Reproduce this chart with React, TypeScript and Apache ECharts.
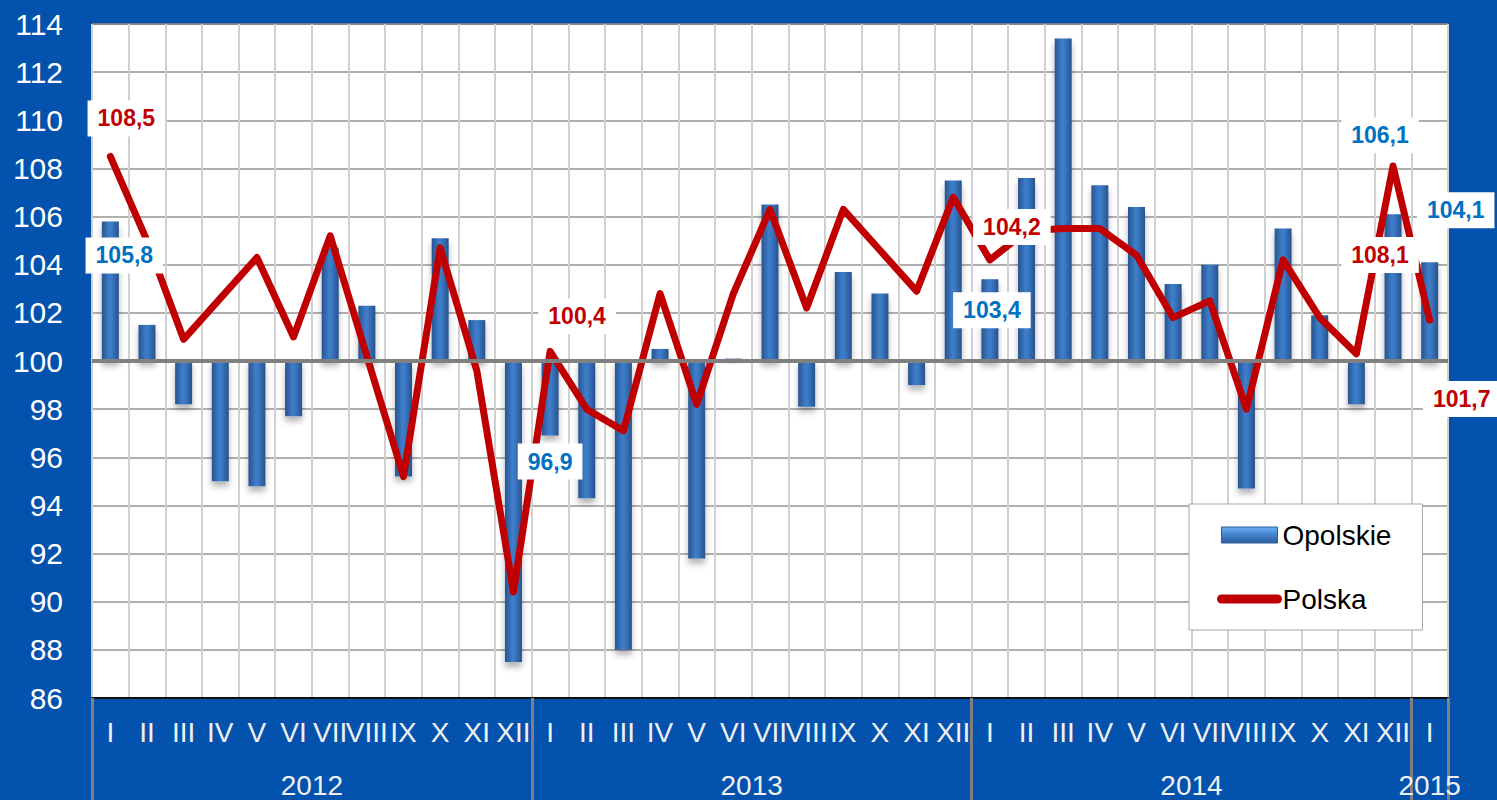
import React, { useEffect, useRef } from "react";
import * as echarts from "echarts";

const months = ["I", "II", "III", "IV", "V", "VI", "VII", "VIII", "IX", "X", "XI", "XII"];
const years = ["2012", "2013", "2014", "2015"];
const monthsPerYear = [12, 12, 12, 1];

const opolskie = [
  105.8, 101.5, 98.2, 95.0, 94.8, 97.7, 104.7, 102.3, 95.2, 105.1, 101.7, 87.5,
  96.9, 94.3, 88.0, 100.5, 91.8, 100.1, 106.5, 98.1, 103.7, 102.8, 99.0, 107.5,
  103.4, 107.6, 113.4, 107.3, 106.4, 103.2, 104.0, 94.7, 105.5, 101.9, 98.2, 106.1,
  104.1,
];
const polska = [
  108.5, 105.0, 100.9, 102.6, 104.3, 101.0, 105.2, 100.2, 95.2, 104.7, 99.6, 90.4,
  100.4, 98.0, 97.1, 102.8, 98.2, 102.8, 106.3, 102.2, 106.3, 104.6, 102.9, 106.8,
  104.2, 105.4, 105.5, 105.5, 104.4, 101.8, 102.5, 98.0, 104.2, 101.8, 100.3, 108.1,
  101.7,
];

const BASE = 100;
const yMin = 86;
const yMax = 114;
const yStep = 2;

// label placement (pixel offsets from the point), styles only
const polskaLabelOffsets: Record<number, [number, number]> = {
  0: [16, -38],
  12: [27, -35],
  24: [22, -33],
  35: [-13, 89],
  36: [32, 79],
};
const opolskieLabelOffsets: Record<number, [number, number]> = {
  0: [14, 34],
  12: [0, 26],
  24: [2, 31],
  35: [-13, -79],
  36: [26, -52],
};

const fmt = (v: number) => v.toFixed(1).replace(".", ",");

const FONT = "'Liberation Sans', Arial, sans-serif";

export default function App() {
  const ref = useRef<HTMLDivElement>(null);

  useEffect(() => {
    if (!ref.current) return;
    const chart = echarts.init(ref.current, undefined, { renderer: "svg" });

    const categories: string[] = [];
    monthsPerYear.forEach((n) => {
      for (let i = 0; i < n; i++) categories.push(months[i]);
    });

    // half-month points for the year axis (boundaryGap false)
    const halfPoints: string[] = [];
    const boundaries = new Set<number>();
    let pos = 0;
    boundaries.add(0);
    const yearLabelAt: Record<number, string> = {};
    years.forEach((y, k) => {
      yearLabelAt[pos + monthsPerYear[k]] = y;
      pos += monthsPerYear[k] * 2;
      boundaries.add(pos);
    });
    for (let i = 0; i <= pos; i++) halfPoints.push(yearLabelAt[i] || "");

    const labelBox = (color: string) => ({
      show: true,
      position: "inside",
      color,
      fontFamily: FONT,
      fontWeight: "bold",
      fontSize: 23,
      backgroundColor: "#ffffff",
      padding: [7, 10, 6, 10],
    });

    const lineData = polska.map((v, i) => {
      const off = polskaLabelOffsets[i];
      if (!off) return v - BASE;
      return {
        value: v - BASE,
        label: { ...labelBox("#c00000"), offset: off, formatter: fmt(v) },
      };
    });

    const barLabelData = opolskie.map((v, i) => {
      const off = opolskieLabelOffsets[i];
      if (!off) return "-";
      return {
        value: v - BASE,
        label: { ...labelBox("#0070c0"), offset: off, formatter: fmt(v) },
      };
    });

    const barGradient = new echarts.graphic.LinearGradient(0, 0, 1, 0, [
      { offset: 0, color: "#28548f" },
      { offset: 0.45, color: "#3f7ecb" },
      { offset: 0.6, color: "#3a77c2" },
      { offset: 1, color: "#27528c" },
    ]);
    const legendBarGradient = new echarts.graphic.LinearGradient(0, 0, 0, 1, [
      { offset: 0, color: "#6fb0f0" },
      { offset: 0.4, color: "#4a8ad6" },
      { offset: 1, color: "#2d5e9e" },
    ]);

    chart.setOption({
      animation: false,
      backgroundColor: "#0352ad",
      textStyle: { fontFamily: FONT },
      grid: {
        left: 92,
        top: 24,
        width: 1356,
        height: 674,
        show: true,
        backgroundColor: "#ffffff",
        borderColor: "#333333",
        borderWidth: 1.5,
      },
      legend: {
        orient: "vertical",
        left: 1189,
        top: 504,
        padding: [16, 31, 16, 28],
        itemGap: 34,
        itemWidth: 56,
        itemHeight: 16,
        backgroundColor: "#ffffff",
        borderColor: "#a6a6a6",
        borderWidth: 1,
        textStyle: { fontSize: 28, color: "#000000", lineHeight: 30, fontFamily: FONT },
        data: [
          { name: "Opolskie", icon: "rect", itemStyle: { color: legendBarGradient, borderColor: "#2d5e9e", borderWidth: 1 } },
          { name: "Polska", lineStyle: { width: 9, cap: "round", color: "#c00000" } },
        ],
      },
      xAxis: [
        {
          type: "category",
          data: categories,
          boundaryGap: true,
          position: "bottom",
          axisLine: { show: true, onZero: false, lineStyle: { color: "#111111", width: 2 } },
          axisTick: { show: false },
          axisLabel: {
            interval: 0,
            color: "#f0f0f0",
            fontSize: 28,
            fontFamily: FONT,
            margin: 20,
          },
          splitLine: { show: true, interval: 0, lineStyle: { color: "#d0d0d0", width: 2 } },
        },
        {
          type: "category",
          data: halfPoints,
          boundaryGap: false,
          position: "bottom",
          axisLine: { show: false, onZero: false },
          axisTick: {
            show: true,
            length: 104,
            interval: (idx: number) => boundaries.has(idx),
            lineStyle: { color: "#808080", width: 3 },
          },
          axisLabel: {
            interval: (_idx: number, val: string) => val !== "",
            color: "#f0f0f0",
            fontSize: 28,
            fontFamily: FONT,
            margin: 73,
          },
          splitLine: { show: false },
        },
      ],
      yAxis: {
        type: "value",
        min: yMin - BASE,
        max: yMax - BASE,
        interval: yStep,
        axisLine: { show: false },
        axisTick: { show: false },
        axisLabel: {
          color: "#ffffff",
          fontSize: 30,
          fontFamily: FONT,
          margin: 29,
          formatter: (v: number) => String(Math.round(v + BASE)),
        },
        splitLine: { show: true, lineStyle: { color: "#959595", width: 1.5 } },
      },
      series: [
        {
          name: "Opolskie",
          type: "bar",
          data: opolskie.map((v) => v - BASE),
          barWidth: 17,
          itemStyle: {
            color: barGradient,
            shadowBlur: 6,
            shadowOffsetY: 5,
            shadowColor: "rgba(0,0,0,0.3)",
          },
          markLine: {
            silent: true,
            symbol: ["none", "none"],
            label: { show: false },
            lineStyle: { color: "#808080", width: 4, type: "solid" },
            data: [{ yAxis: 0 }],
          },
          z: 2,
        },
        {
          name: "Polska",
          type: "line",
          data: lineData,
          symbol: "circle",
          symbolSize: 2,
          showSymbol: true,
          itemStyle: { color: "rgba(0,0,0,0)", opacity: 1 },
          lineStyle: { color: "#c00000", width: 7, join: "round", cap: "round" },
          z: 4,
        },
        {
          name: "Opolskie etykiety",
          type: "scatter",
          data: barLabelData,
          symbolSize: 2,
          itemStyle: { color: "rgba(0,0,0,0)", opacity: 1 },
          z: 5,
        },
      ],
    });

    return () => chart.dispose();
  }, []);

  return (
    <div
      ref={ref}
      style={{ position: "fixed", left: 0, top: 0, width: 1497, height: 800 }}
    />
  );
}
